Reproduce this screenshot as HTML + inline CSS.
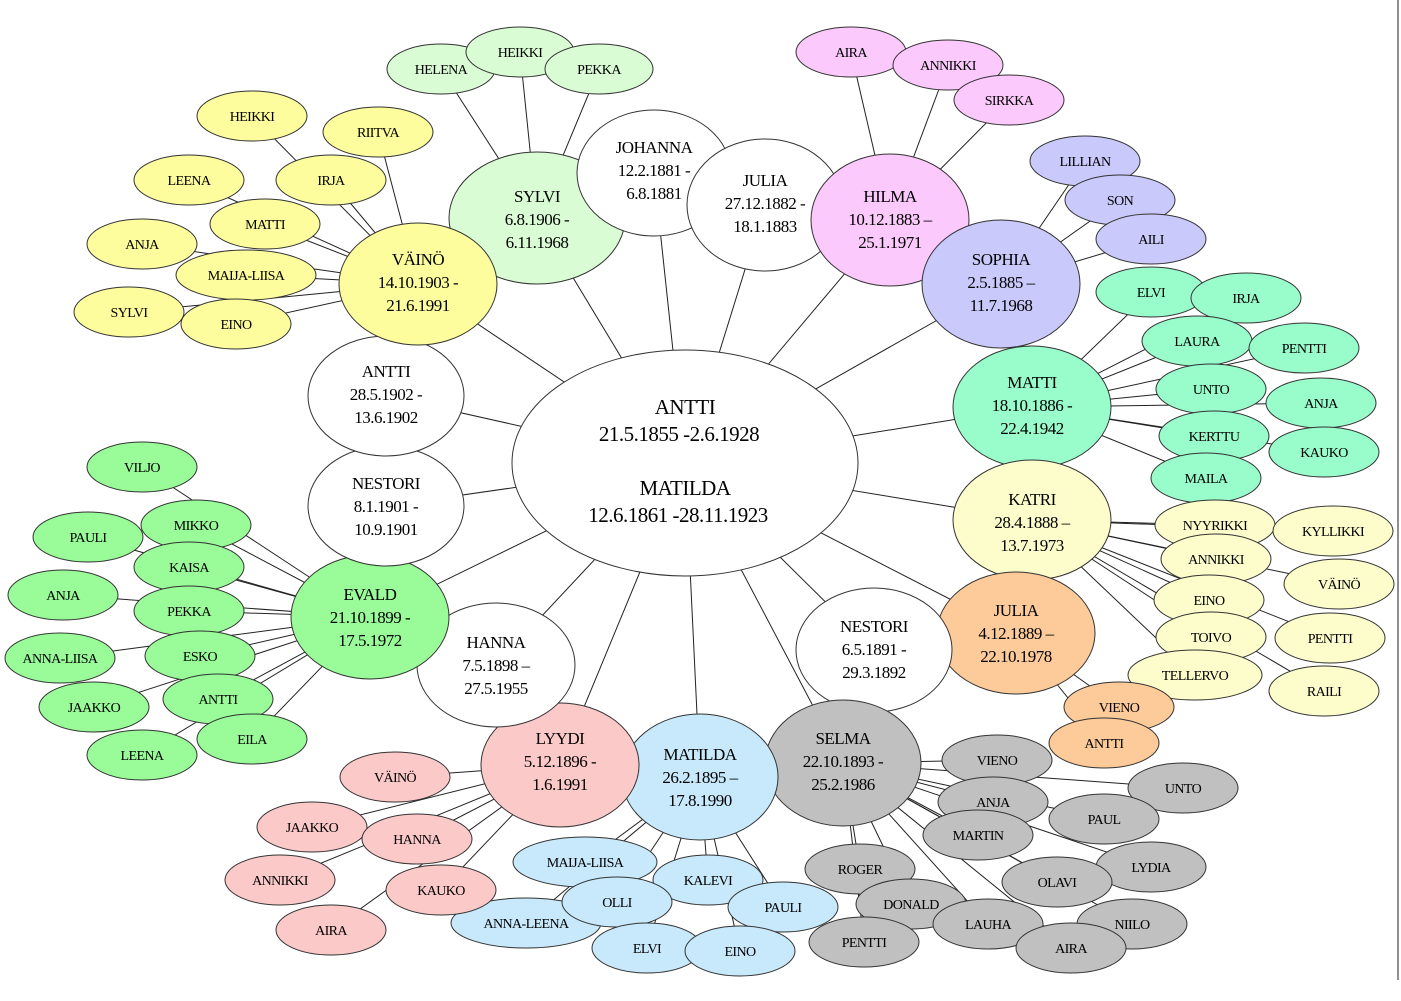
<!DOCTYPE html>
<html><head><meta charset="utf-8"><style>
body{margin:0;background:#fff}
svg{display:block}
text{font-family:"Liberation Serif",serif;text-anchor:middle;fill:#000}
.l text{font-size:14px;letter-spacing:-0.6px}
.c text{font-size:17px;letter-spacing:-0.5px}
ellipse{stroke:#333;stroke-width:1}
line{stroke:#222;stroke-width:1}
</style></head><body>
<svg width="1401" height="1001" viewBox="0 0 1401 1001" xmlns="http://www.w3.org/2000/svg">
<line x1="1398" y1="0" x2="1398" y2="980" stroke="#ddd"/>
<g>
<!-- center to children -->
<line x1="685" y1="463" x2="537" y2="218"/><line x1="685" y1="463" x2="654" y2="173"/><line x1="685" y1="463" x2="765" y2="205"/><line x1="685" y1="463" x2="890" y2="220"/><line x1="685" y1="463" x2="1001" y2="284"/><line x1="685" y1="463" x2="1032" y2="407"/><line x1="685" y1="463" x2="1032" y2="520"/><line x1="685" y1="463" x2="1016" y2="633"/><line x1="685" y1="463" x2="874" y2="650"/><line x1="685" y1="463" x2="843" y2="763"/><line x1="685" y1="463" x2="700" y2="777"/><line x1="685" y1="463" x2="560" y2="765"/><line x1="685" y1="463" x2="496" y2="665"/><line x1="685" y1="463" x2="370" y2="617"/><line x1="685" y1="463" x2="386" y2="506"/><line x1="685" y1="463" x2="386" y2="396"/><line x1="685" y1="463" x2="418" y2="284"/>
<!-- SYLVI -->
<line x1="537" y1="218" x2="441" y2="69"/><line x1="537" y1="218" x2="520" y2="52"/><line x1="537" y1="218" x2="599" y2="69"/>
<!-- VAINO -->
<line x1="418" y1="284" x2="252" y2="116"/><line x1="418" y1="284" x2="378" y2="132"/><line x1="418" y1="284" x2="189" y2="180"/><line x1="418" y1="284" x2="331" y2="180"/><line x1="418" y1="284" x2="265" y2="224"/><line x1="418" y1="284" x2="142" y2="244"/><line x1="418" y1="284" x2="246" y2="275"/><line x1="418" y1="284" x2="129" y2="312"/><line x1="418" y1="284" x2="236" y2="324"/>
<!-- HILMA -->
<line x1="890" y1="220" x2="851" y2="52"/><line x1="890" y1="220" x2="948" y2="65"/><line x1="890" y1="220" x2="1009" y2="100"/>
<!-- SOPHIA -->
<line x1="1001" y1="284" x2="1085" y2="161"/><line x1="1001" y1="284" x2="1120" y2="200"/><line x1="1001" y1="284" x2="1151" y2="239"/>
<!-- MATTI -->
<line x1="1032" y1="407" x2="1151" y2="292"/><line x1="1032" y1="407" x2="1246" y2="298"/><line x1="1032" y1="407" x2="1197" y2="341"/><line x1="1032" y1="407" x2="1304" y2="348"/><line x1="1032" y1="407" x2="1211" y2="389"/><line x1="1032" y1="407" x2="1321" y2="403"/><line x1="1032" y1="407" x2="1214" y2="436"/><line x1="1032" y1="407" x2="1324" y2="452"/><line x1="1032" y1="407" x2="1206" y2="478"/>
<!-- KATRI -->
<line x1="1032" y1="520" x2="1215" y2="525"/><line x1="1032" y1="520" x2="1333" y2="531"/><line x1="1032" y1="520" x2="1216" y2="559"/><line x1="1032" y1="520" x2="1339" y2="584"/><line x1="1032" y1="520" x2="1209" y2="600"/><line x1="1032" y1="520" x2="1211" y2="637"/><line x1="1032" y1="520" x2="1330" y2="638"/><line x1="1032" y1="520" x2="1195" y2="675"/><line x1="1032" y1="520" x2="1324" y2="691"/>
<!-- JULIA2 -->
<line x1="1016" y1="633" x2="1119" y2="707"/><line x1="1016" y1="633" x2="1104" y2="743"/>
<!-- SELMA -->
<line x1="843" y1="763" x2="997" y2="760"/><line x1="843" y1="763" x2="1183" y2="788"/><line x1="843" y1="763" x2="993" y2="802"/><line x1="843" y1="763" x2="1104" y2="819"/><line x1="843" y1="763" x2="978" y2="835"/><line x1="843" y1="763" x2="1151" y2="867"/><line x1="843" y1="763" x2="860" y2="869"/><line x1="843" y1="763" x2="1057" y2="882"/><line x1="843" y1="763" x2="911" y2="904"/><line x1="843" y1="763" x2="988" y2="924"/><line x1="843" y1="763" x2="1132" y2="924"/><line x1="843" y1="763" x2="864" y2="942"/><line x1="843" y1="763" x2="1071" y2="948"/>
<!-- MATILDA -->
<line x1="700" y1="777" x2="585" y2="862"/><line x1="700" y1="777" x2="708" y2="880"/><line x1="700" y1="777" x2="617" y2="902"/><line x1="700" y1="777" x2="783" y2="907"/><line x1="700" y1="777" x2="526" y2="923"/><line x1="700" y1="777" x2="647" y2="948"/><line x1="700" y1="777" x2="740" y2="951"/>
<!-- LYYDI -->
<line x1="560" y1="765" x2="395" y2="777"/><line x1="560" y1="765" x2="312" y2="827"/><line x1="560" y1="765" x2="417" y2="839"/><line x1="560" y1="765" x2="280" y2="880"/><line x1="560" y1="765" x2="441" y2="890"/><line x1="560" y1="765" x2="331" y2="930"/>
<!-- EVALD -->
<line x1="370" y1="617" x2="142" y2="467"/><line x1="370" y1="617" x2="88" y2="537"/><line x1="370" y1="617" x2="196" y2="525"/><line x1="370" y1="617" x2="189" y2="567"/><line x1="370" y1="617" x2="63" y2="595"/><line x1="370" y1="617" x2="189" y2="611"/><line x1="370" y1="617" x2="60" y2="658"/><line x1="370" y1="617" x2="200" y2="656"/><line x1="370" y1="617" x2="94" y2="707"/><line x1="370" y1="617" x2="218" y2="699"/><line x1="370" y1="617" x2="142" y2="755"/><line x1="370" y1="617" x2="252" y2="739"/>
</g>
<g class="l">
<g fill="#dafcd4"><ellipse cx="441" cy="69" rx="54" ry="25"/><ellipse cx="520" cy="52" rx="54" ry="25"/><ellipse cx="599" cy="69" rx="54" ry="25"/></g>
<text x="441" y="74">HELENA</text><text x="520" y="57">HEIKKI</text><text x="599" y="74">PEKKA</text>
<g fill="#fdfd9d"><ellipse cx="252" cy="116" rx="55" ry="25"/><ellipse cx="378" cy="132" rx="55" ry="25"/><ellipse cx="189" cy="180" rx="55" ry="25"/><ellipse cx="331" cy="180" rx="55" ry="25"/><ellipse cx="265" cy="224" rx="55" ry="25"/><ellipse cx="142" cy="244" rx="55" ry="25"/><ellipse cx="246" cy="275" rx="70" ry="25"/><ellipse cx="129" cy="312" rx="55" ry="25"/><ellipse cx="236" cy="324" rx="55" ry="25"/></g>
<text x="252" y="121">HEIKKI</text><text x="378" y="137">RIITVA</text><text x="189" y="185">LEENA</text><text x="331" y="185">IRJA</text><text x="265" y="229">MATTI</text><text x="142" y="249">ANJA</text><text x="246" y="280">MAIJA-LIISA</text><text x="129" y="317">SYLVI</text><text x="236" y="329">EINO</text>
<g fill="#fbc9fb"><ellipse cx="851" cy="52" rx="55" ry="25"/><ellipse cx="948" cy="65" rx="55" ry="25"/><ellipse cx="1009" cy="100" rx="55" ry="25"/></g>
<text x="851" y="57">AIRA</text><text x="948" y="70">ANNIKKI</text><text x="1009" y="105">SIRKKA</text>
<g fill="#c9c9fb"><ellipse cx="1085" cy="161" rx="55" ry="25"/><ellipse cx="1120" cy="200" rx="55" ry="25"/><ellipse cx="1151" cy="239" rx="55" ry="25"/></g>
<text x="1085" y="166">LILLIAN</text><text x="1120" y="205">SON</text><text x="1151" y="244">AILI</text>
<g fill="#99fccb"><ellipse cx="1151" cy="292" rx="55" ry="25"/><ellipse cx="1246" cy="298" rx="55" ry="25"/><ellipse cx="1197" cy="341" rx="55" ry="25"/><ellipse cx="1304" cy="348" rx="55" ry="25"/><ellipse cx="1211" cy="389" rx="55" ry="25"/><ellipse cx="1321" cy="403" rx="55" ry="25"/><ellipse cx="1214" cy="436" rx="55" ry="25"/><ellipse cx="1324" cy="452" rx="55" ry="25"/><ellipse cx="1206" cy="478" rx="55" ry="25"/></g>
<text x="1151" y="297">ELVI</text><text x="1246" y="303">IRJA</text><text x="1197" y="346">LAURA</text><text x="1304" y="353">PENTTI</text><text x="1211" y="394">UNTO</text><text x="1321" y="408">ANJA</text><text x="1214" y="441">KERTTU</text><text x="1324" y="457">KAUKO</text><text x="1206" y="483">MAILA</text>
<g fill="#fdfdcc"><ellipse cx="1215" cy="525" rx="60" ry="25"/><ellipse cx="1333" cy="531" rx="60" ry="25"/><ellipse cx="1216" cy="559" rx="55" ry="25"/><ellipse cx="1339" cy="584" rx="55" ry="25"/><ellipse cx="1209" cy="600" rx="55" ry="25"/><ellipse cx="1211" cy="637" rx="55" ry="25"/><ellipse cx="1330" cy="638" rx="55" ry="25"/><ellipse cx="1195" cy="675" rx="67" ry="25"/><ellipse cx="1324" cy="691" rx="55" ry="25"/></g>
<text x="1215" y="530">NYYRIKKI</text><text x="1333" y="536">KYLLIKKI</text><text x="1216" y="564">ANNIKKI</text><text x="1339" y="589">VÄINÖ</text><text x="1209" y="605">EINO</text><text x="1211" y="642">TOIVO</text><text x="1330" y="643">PENTTI</text><text x="1195" y="680">TELLERVO</text><text x="1324" y="696">RAILI</text>
<g fill="#fdcb99"><ellipse cx="1119" cy="707" rx="55" ry="25"/><ellipse cx="1104" cy="743" rx="55" ry="25"/></g>
<text x="1119" y="712">VIENO</text><text x="1104" y="748">ANTTI</text>
<g fill="#c0c0c0"><ellipse cx="997" cy="760" rx="55" ry="25"/><ellipse cx="1183" cy="788" rx="55" ry="25"/><ellipse cx="993" cy="802" rx="55" ry="25"/><ellipse cx="1104" cy="819" rx="55" ry="25"/><ellipse cx="978" cy="835" rx="55" ry="25"/><ellipse cx="1151" cy="867" rx="55" ry="25"/><ellipse cx="860" cy="869" rx="55" ry="25"/><ellipse cx="1057" cy="882" rx="55" ry="25"/><ellipse cx="911" cy="904" rx="55" ry="25"/><ellipse cx="988" cy="924" rx="55" ry="25"/><ellipse cx="1132" cy="924" rx="55" ry="25"/><ellipse cx="864" cy="942" rx="55" ry="25"/><ellipse cx="1071" cy="948" rx="55" ry="25"/></g>
<text x="997" y="765">VIENO</text><text x="1183" y="793">UNTO</text><text x="993" y="807">ANJA</text><text x="1104" y="824">PAUL</text><text x="978" y="840">MARTIN</text><text x="1151" y="872">LYDIA</text><text x="860" y="874">ROGER</text><text x="1057" y="887">OLAVI</text><text x="911" y="909">DONALD</text><text x="988" y="929">LAUHA</text><text x="1132" y="929">NIILO</text><text x="864" y="947">PENTTI</text><text x="1071" y="953">AIRA</text>
<g fill="#c8e9fb"><ellipse cx="585" cy="862" rx="72" ry="25"/><ellipse cx="708" cy="880" rx="55" ry="25"/><ellipse cx="783" cy="907" rx="55" ry="25"/><ellipse cx="526" cy="923" rx="75" ry="25"/><ellipse cx="617" cy="902" rx="55" ry="25"/><ellipse cx="647" cy="948" rx="55" ry="25"/><ellipse cx="740" cy="951" rx="55" ry="25"/></g>
<text x="585" y="867">MAIJA-LIISA</text><text x="708" y="885">KALEVI</text><text x="617" y="907">OLLI</text><text x="783" y="912">PAULI</text><text x="526" y="928">ANNA-LEENA</text><text x="647" y="953">ELVI</text><text x="740" y="956">EINO</text>
<g fill="#fcc9c9"><ellipse cx="395" cy="777" rx="55" ry="25"/><ellipse cx="312" cy="827" rx="55" ry="25"/><ellipse cx="417" cy="839" rx="55" ry="25"/><ellipse cx="280" cy="880" rx="55" ry="25"/><ellipse cx="441" cy="890" rx="55" ry="25"/><ellipse cx="331" cy="930" rx="55" ry="25"/></g>
<text x="395" y="782">VÄINÖ</text><text x="312" y="832">JAAKKO</text><text x="417" y="844">HANNA</text><text x="280" y="885">ANNIKKI</text><text x="441" y="895">KAUKO</text><text x="331" y="935">AIRA</text>
<g fill="#99fc99"><ellipse cx="142" cy="467" rx="55" ry="25"/><ellipse cx="88" cy="537" rx="55" ry="25"/><ellipse cx="196" cy="525" rx="55" ry="25"/><ellipse cx="189" cy="567" rx="55" ry="25"/><ellipse cx="63" cy="595" rx="55" ry="25"/><ellipse cx="189" cy="611" rx="55" ry="25"/><ellipse cx="60" cy="658" rx="55" ry="25"/><ellipse cx="200" cy="656" rx="55" ry="25"/><ellipse cx="94" cy="707" rx="55" ry="25"/><ellipse cx="218" cy="699" rx="55" ry="25"/><ellipse cx="142" cy="755" rx="55" ry="25"/><ellipse cx="252" cy="739" rx="55" ry="25"/></g>
<text x="142" y="472">VILJO</text><text x="88" y="542">PAULI</text><text x="196" y="530">MIKKO</text><text x="189" y="572">KAISA</text><text x="63" y="600">ANJA</text><text x="189" y="616">PEKKA</text><text x="60" y="663">ANNA-LIISA</text><text x="200" y="661">ESKO</text><text x="94" y="712">JAAKKO</text><text x="218" y="704">ANTTI</text><text x="142" y="760">LEENA</text><text x="252" y="744">EILA</text>
</g>
<g class="c">
<ellipse cx="537" cy="218" rx="88" ry="66" fill="#dafcd4"/><text x="537" y="202">SYLVI</text><text x="537" y="225">6.8.1906 -</text><text x="537" y="248">6.11.1968</text>
<ellipse cx="654" cy="173" rx="77" ry="63" fill="#fff"/><text x="654" y="153">JOHANNA</text><text x="654" y="176">12.2.1881 -</text><text x="654" y="199">6.8.1881</text>
<ellipse cx="765" cy="205" rx="78" ry="66" fill="#fff"/><text x="765" y="186">JULIA</text><text x="765" y="209">27.12.1882 -</text><text x="765" y="232">18.1.1883</text>
<ellipse cx="890" cy="220" rx="79" ry="66" fill="#fbc9fb"/><text x="890" y="202">HILMA</text><text x="890" y="225">10.12.1883 –</text><text x="890" y="248">25.1.1971</text>
<ellipse cx="1001" cy="284" rx="79" ry="64" fill="#c9c9fb"/><text x="1001" y="265">SOPHIA</text><text x="1001" y="288">2.5.1885 –</text><text x="1001" y="311">11.7.1968</text>
<ellipse cx="1032" cy="407" rx="79" ry="61" fill="#99fccb"/><text x="1032" y="388">MATTI</text><text x="1032" y="411">18.10.1886 -</text><text x="1032" y="434">22.4.1942</text>
<ellipse cx="1032" cy="520" rx="79" ry="60" fill="#fdfdcc"/><text x="1032" y="505">KATRI</text><text x="1032" y="528">28.4.1888 –</text><text x="1032" y="551">13.7.1973</text>
<ellipse cx="1016" cy="633" rx="79" ry="61" fill="#fdcb99"/><text x="1016" y="616">JULIA</text><text x="1016" y="639">4.12.1889 –</text><text x="1016" y="662">22.10.1978</text>
<ellipse cx="874" cy="650" rx="78" ry="62" fill="#fff"/><text x="874" y="632">NESTORI</text><text x="874" y="655">6.5.1891 -</text><text x="874" y="678">29.3.1892</text>
<ellipse cx="843" cy="763" rx="78" ry="63" fill="#c0c0c0"/><text x="843" y="744">SELMA</text><text x="843" y="767">22.10.1893 -</text><text x="843" y="790">25.2.1986</text>
<ellipse cx="700" cy="777" rx="78" ry="63" fill="#c8e9fb"/><text x="700" y="760">MATILDA</text><text x="700" y="783">26.2.1895 –</text><text x="700" y="806">17.8.1990</text>
<ellipse cx="560" cy="765" rx="79" ry="62" fill="#fcc9c9"/><text x="560" y="744">LYYDI</text><text x="560" y="767">5.12.1896 -</text><text x="560" y="790">1.6.1991</text>
<ellipse cx="496" cy="665" rx="79" ry="62" fill="#fff"/><text x="496" y="648">HANNA</text><text x="496" y="671">7.5.1898 –</text><text x="496" y="694">27.5.1955</text>
<ellipse cx="370" cy="617" rx="79" ry="62" fill="#99fc99"/><text x="370" y="600">EVALD</text><text x="370" y="623">21.10.1899 -</text><text x="370" y="646">17.5.1972</text>
<ellipse cx="386" cy="506" rx="78" ry="60" fill="#fff"/><text x="386" y="489">NESTORI</text><text x="386" y="512">8.1.1901 -</text><text x="386" y="535">10.9.1901</text>
<ellipse cx="386" cy="396" rx="78" ry="60" fill="#fff"/><text x="386" y="377">ANTTI</text><text x="386" y="400">28.5.1902 -</text><text x="386" y="423">13.6.1902</text>
<ellipse cx="418" cy="284" rx="79" ry="61" fill="#fdfd9d"/><text x="418" y="265">VÄINÖ</text><text x="418" y="288">14.10.1903 -</text><text x="418" y="311">21.6.1991</text>
<ellipse cx="685" cy="463" rx="173" ry="113" fill="#fff"/>
<text x="685" y="414" style="font-size:21px">ANTTI</text><text x="679" y="441" style="font-size:21px">21.5.1855 -2.6.1928</text>
<text x="685" y="495" style="font-size:21px">MATILDA</text><text x="678" y="522" style="font-size:21px">12.6.1861 -28.11.1923</text>
</g>
</svg>
</body></html>
